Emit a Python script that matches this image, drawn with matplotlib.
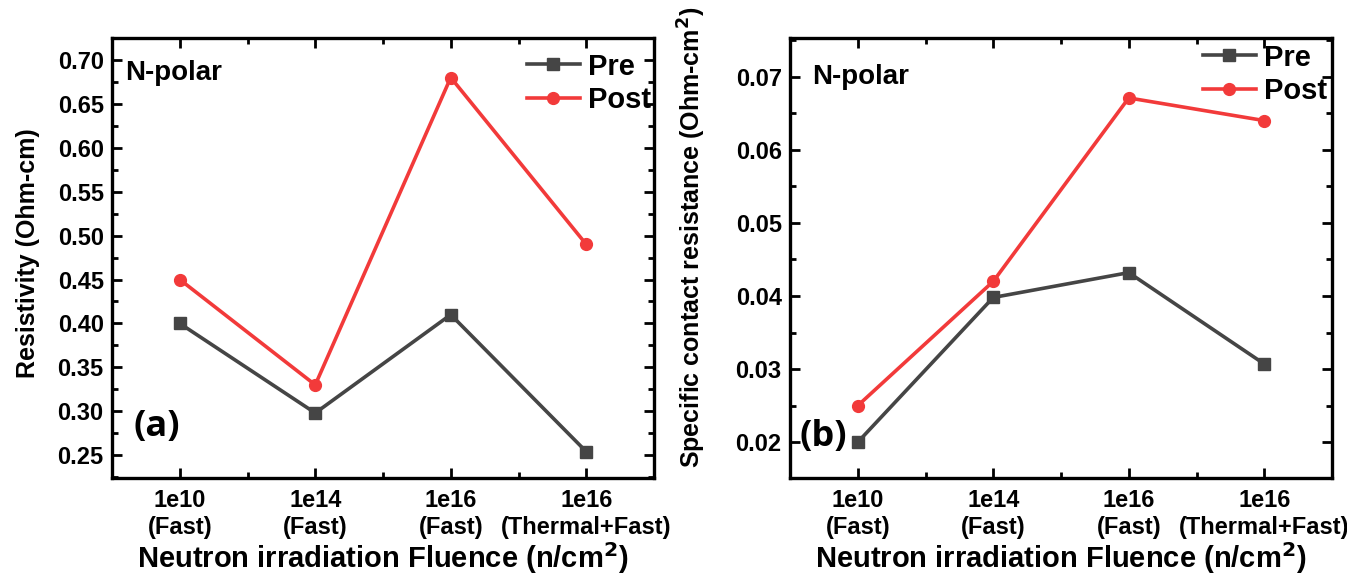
import matplotlib
matplotlib.use("Agg")
import matplotlib.pyplot as plt
from matplotlib.ticker import MultipleLocator, FixedLocator

plt.rcParams['font.family'] = ['Liberation Sans', 'DejaVu Sans']
plt.rcParams['font.weight'] = 'bold'
plt.rcParams['mathtext.default'] = 'bf'

categories = ["1e10\n(Fast)", "1e14\n(Fast)", "1e16\n(Fast)", "1e16\n(Thermal+Fast)"]
x = [1, 2, 3, 4]

resist_pre = [0.400, 0.298, 0.410, 0.254]
resist_post = [0.450, 0.330, 0.680, 0.490]

contact_pre = [0.0200, 0.0398, 0.0432, 0.0307]
contact_post = [0.0250, 0.0420, 0.0671, 0.0640]

pre_color = "#454545"
post_color = "#f23a3a"

fig = plt.figure(figsize=(13.47, 5.75), dpi=100)
ax1 = fig.add_axes([112/1347, 1-478/575, (654-112)/1347, 440/575])
ax2 = fig.add_axes([790/1347, 1-478/575, (1332-790)/1347, 440/575])

def style(ax, ylim, major, minor, fmt):
    ax.set_xlim(0.5, 4.5)
    ax.set_ylim(*ylim)
    ax.xaxis.set_major_locator(FixedLocator(x))
    ax.xaxis.set_minor_locator(FixedLocator([1.5, 2.5, 3.5]))
    ax.yaxis.set_major_locator(MultipleLocator(major))
    ax.yaxis.set_minor_locator(MultipleLocator(minor))
    ax.set_xticklabels(categories, fontsize=17, fontweight='bold', linespacing=1.2)
    ax.yaxis.set_major_formatter(matplotlib.ticker.FormatStrFormatter(fmt))
    for lab in ax.get_yticklabels():
        lab.set_fontweight('bold')
    ax.tick_params(axis='both', which='major', direction='in', length=7, width=2,
                   top=True, right=True, labelsize=17)
    ax.tick_params(axis='both', which='minor', direction='in', length=4, width=2,
                   top=True, right=True)
    ax.tick_params(axis='x', which='major', pad=8)
    ax.tick_params(axis='y', which='major', pad=6)
    for s in ax.spines.values():
        s.set_linewidth(2.4)
    ax.set_xlabel("Neutron irradiation Fluence (n/cm$^{2}$)", fontsize=21, fontweight='bold')
    ax.xaxis.set_label_coords(0.5, -0.14)

ax1.plot(x, resist_pre, color=pre_color, lw=2.6, marker='s', ms=8, label='Pre')
ax1.plot(x, resist_post, color=post_color, lw=2.6, marker='o', ms=8.5, label='Post')
style(ax1, (0.224, 0.725), 0.05, 0.025, '%.2f')
ax1.set_ylabel("Resistivity (Ohm-cm)", fontsize=18, fontweight='bold', va='center')
ax1.yaxis.set_label_coords(-0.155, 0.51)
ax1.text(0.024, 0.92, "N-polar", transform=ax1.transAxes, fontsize=20, fontweight='bold', va='center')
ax1.text(0.04, 0.116, "(a)", transform=ax1.transAxes, fontsize=26, fontweight='bold', va='center',
         family=['Open Sans', 'DejaVu Sans'])
ax1.legend(loc='upper left', bbox_to_anchor=(0.766, 0.967), frameon=False, fontsize=21,
           handlelength=1.8, handletextpad=0.28, labelspacing=0.2, borderpad=0, borderaxespad=0)

ax2.plot(x, contact_pre, color=pre_color, lw=2.6, marker='s', ms=8, label='Pre')
ax2.plot(x, contact_post, color=post_color, lw=2.6, marker='o', ms=8.5, label='Post')
style(ax2, (0.0151, 0.0753), 0.01, 0.005, '%.2f')
ax2.set_ylabel("Specific contact resistance (Ohm-cm$^{2}$)", fontsize=18, fontweight='bold', va='center')
ax2.yaxis.set_label_coords(-0.181, 0.548)
ax2.text(0.04, 0.911, "N-polar", transform=ax2.transAxes, fontsize=20, fontweight='bold', va='center')
ax2.text(0.018, 0.093, "(b)", transform=ax2.transAxes, fontsize=26, fontweight='bold', va='center',
         family=['Open Sans', 'DejaVu Sans'])
ax2.legend(loc='upper left', bbox_to_anchor=(0.762, 0.9875), frameon=False, fontsize=21,
           handlelength=1.8, handletextpad=0.28, labelspacing=0.2, borderpad=0, borderaxespad=0)

fig.savefig("out.png", dpi=100)
